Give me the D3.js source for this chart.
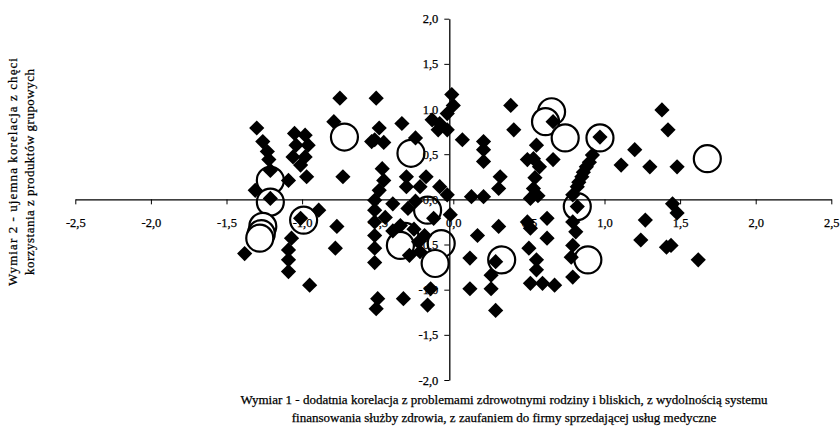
<!DOCTYPE html>
<html>
<head>
<meta charset="utf-8">
<script src="https://cdn.jsdelivr.net/npm/d3@7/dist/d3.min.js"></script>
<style>
  body { margin: 0; background: #fff; }
  svg { display: block; }
  text { font-family: "Liberation Serif", "Times New Roman", serif; fill: #000; stroke: #000; stroke-width: 0.25px; }
</style>
</head>
<body>
<svg id="chart" width="840" height="426"></svg>
<script>
// Axis ticks
const xTicks = [-2.5, -2, -1.5, -1, -0.5, 0, 0.5, 1, 1.5, 2, 2.5];
const yTicks = [-2, -1.5, -1, -0.5, 0, 0.5, 1, 1.5, 2];

// Respondents (filled diamonds): [wymiar 1, wymiar 2]
const diamonds = [
  [-0.75,1.12],[-0.51,1.12],[-1.30,0.79],[-1.26,0.64],[-1.23,0.53],[-1.22,0.44],[-1.21,0.32],[-1.31,0.10],[-1.21,0.01],[-1.09,0.21],
  [-1.05,0.73],[-0.98,0.71],[-1.04,0.60],[-0.96,0.60],[-1.06,0.47],[-0.98,0.47],[-1.01,0.38],[-0.97,0.25],[-0.79,0.86],[-0.73,0.25],
  [-0.54,0.64],[-0.49,0.79],[-0.52,0.66],[-0.46,0.63],[-0.34,0.84],[-0.25,0.68],[-0.14,0.88],[-0.10,0.77],[-0.01,1.16],[0.00,1.04],
  [-0.04,0.95],[-0.09,0.84],[-0.04,0.77],[0.06,0.66],[0.20,0.64],[0.20,0.55],[0.20,0.42],[0.38,1.04],[0.40,0.77],[-0.47,0.34],
  [-0.46,0.21],[-0.49,0.10],[-0.31,0.25],[-0.31,0.14],[-0.18,0.25],[-0.22,0.14],[-0.09,0.14],[-0.04,0.05],[0.12,0.03],[0.20,0.03],
  [0.31,0.25],[0.30,0.12],[0.49,0.44],
  [0.66,0.86],[0.55,0.60],[0.53,0.45],[0.57,0.36],[0.66,0.44],[0.54,0.24],[0.53,0.12],[0.56,0.04],
  [0.97,0.69],[0.92,0.49],[0.90,0.41],[0.88,0.36],[0.86,0.30],[0.85,0.25],[0.83,0.19],[0.82,0.14],[0.79,0.05],
  [1.38,0.99],[1.42,0.77],[1.20,0.55],[1.11,0.38],[1.30,0.36],[1.48,0.36],[1.45,-0.05],[1.48,-0.15],[1.62,-0.67],[1.44,-0.51],
  [-1.38,-0.60],[-0.89,-0.12],[-1.01,-0.21],[-1.07,-0.43],[-1.09,-0.56],[-1.09,-0.67],[-1.09,-0.80],[-0.95,-0.95],[-0.77,-0.30],[-0.78,-0.54],
  [-0.52,-0.01],[-0.52,-0.12],[-0.52,-0.25],[-0.52,-0.40],[-0.52,-0.54],[-0.52,-0.70],[-0.51,-1.21],[-0.50,-1.10],
  [-0.33,-1.10],[-0.17,-1.17],[-0.15,-0.99],[-0.02,-0.17],[-0.13,-0.21],[-0.35,-0.29],[-0.23,-0.47],[-0.22,-0.58],[-0.29,-0.62],
  [0.16,-0.40],[0.30,-0.30],[0.28,-0.69],[0.25,-0.84],[0.25,-0.99],[0.11,-0.65],[0.11,-0.99],[0.28,-1.23],[0.49,-0.25],
  [0.51,0.01],[0.62,-0.21],[0.51,-0.32],[0.62,-0.43],[0.50,-0.54],[0.55,-0.67],[0.55,-0.78],[0.51,-0.93],[0.59,-0.93],[0.67,-0.95],
  [0.82,-0.08],[0.79,-0.25],[0.81,-0.36],[0.79,-0.51],[0.78,-0.64],[0.79,-0.86],[1.27,-0.23],[1.24,-0.45],[1.41,-0.53],
  [-0.40,-0.05],[-0.30,-0.10],[-0.25,-0.02],[-0.45,-0.20],[-0.40,-0.35],[-0.26,-0.33],[-0.19,-0.40]
];

// Segment centres (open circles)
const circles = [
  [-1.21,0.21],[-1.21,-0.03],[-1.26,-0.30],[-1.27,-0.38],[-1.28,-0.43],[-0.99,-0.23],[-0.72,0.69],
  [-0.28,0.51],[-0.32,-0.41],[-0.35,-0.51],[-0.17,-0.12],[-0.08,-0.49],[-0.12,-0.71],[0.32,-0.67],
  [0.65,0.97],[0.61,0.86],[0.74,0.68],[0.97,0.68],[0.82,-0.08],[0.89,-0.67],[1.68,0.45]
];

const xTitleLines = [
  "Wymiar 1 - dodatnia korelacja z problemami zdrowotnymi rodziny i bliskich, z wydolnością systemu",
  "finansowania służby zdrowia, z zaufaniem do firmy sprzedającej usług medyczne"
];
const yTitleLines = [
  "Wymiar 2 - ujemna korelacja z chęci",
  "korzystania z produktów grupowych"
];

const svg = d3.select("#chart");
const x = d3.scaleLinear().domain([-2.5, 2.5]).range([75.3, 831.3]);
const y = d3.scaleLinear().domain([-2, 2]).range([380, 18.7]);
const fmt = v => d3.format(".1f")(v).replace(".", ",").replace("−", "-");

// Open circles first, diamonds over them
svg.append("g").selectAll("circle").data(circles).join("circle")
  .attr("cx", d => x(d[0])).attr("cy", d => y(d[1])).attr("r", 13.5)
  .attr("fill", "#fff").attr("stroke", "#000").attr("stroke-width", 2.2);

svg.append("g").selectAll("path").data(diamonds).join("path")
  .attr("transform", d => `translate(${x(d[0])},${y(d[1])})`)
  .attr("d", "M0,-7.6L7.6,0L0,7.6L-7.6,0Z")
  .attr("fill", "#000");

// Axes crossing at the origin
const xAxis = d3.axisBottom(x).tickValues(xTicks).tickFormat(fmt)
  .tickSizeInner(5).tickSizeOuter(0).tickPadding(14);
const gx = svg.append("g").attr("transform", `translate(0,${y(0)})`).call(xAxis);
gx.select(".domain").attr("stroke", "#000").attr("stroke-width", 1.3);
gx.selectAll(".tick line").attr("stroke", "#000");

const yAxis = d3.axisLeft(y).tickValues(yTicks).tickFormat(fmt)
  .tickSizeInner(5).tickSizeOuter(0).tickPadding(6);
const gy = svg.append("g").attr("transform", `translate(${x(0) - 4},0)`).call(yAxis);
gy.select(".domain").attr("stroke", "#000").attr("stroke-width", 1.3);
gy.selectAll(".tick line").attr("stroke", "#000");

svg.selectAll(".tick text")
  .attr("font-family", null).attr("font-size", null)
  .style("font-family", "'Liberation Serif', serif").style("font-size", "12.5px");

// Axis titles
svg.append("g").selectAll("text").data(xTitleLines).join("text")
  .attr("x", 504).attr("y", (d, i) => 404 + i * 18)
  .attr("text-anchor", "middle").style("font-size", "13px")
  .text(d => d);

svg.append("g").selectAll("text").data(yTitleLines).join("text")
  .attr("transform", (d, i) => `translate(${17 + i * 17},172) rotate(-90)`)
  .attr("text-anchor", "middle").style("font-size", "13px")
  .attr("textLength", (d, i) => i === 0 ? 228 : 206)
  .attr("lengthAdjust", "spacing")
  .text(d => d);
</script>
</body>
</html>
